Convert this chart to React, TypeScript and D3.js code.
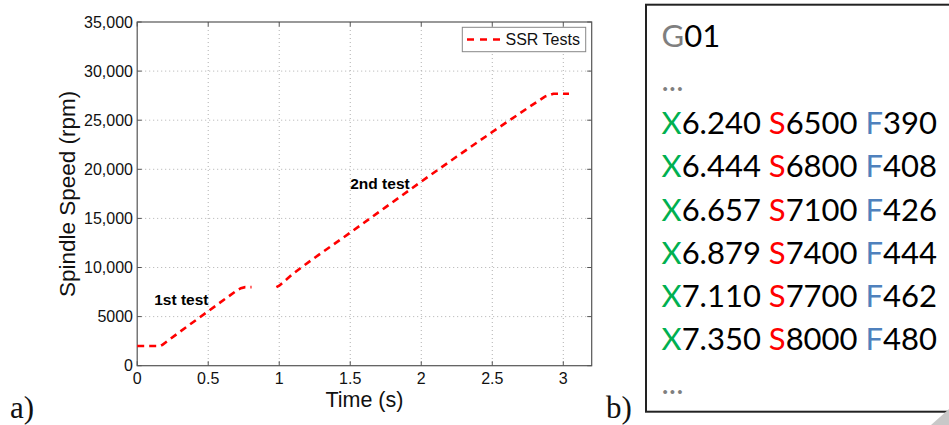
import React from "react";
import * as d3 from "d3";

// ---- Data (panel a) ----
const test1Time = [0, 0.16, 0.18, 0.3, 0.5, 0.7, 0.73, 0.76, 0.805];
const test1Speed = [2000, 2000, 2150, 3450, 5550, 7650, 7900, 8000, 8000];
const test2Time = [0.98, 1.0, 1.1, 1.25, 1.5, 1.75, 2.0, 2.25, 2.5, 2.75, 2.87, 2.93, 3.04];
const test2Speed = [8000, 8150, 9400, 11000, 13550, 16150, 18750, 21300, 23800, 26250, 27400, 27700, 27700];

const xTicks = [0, 0.5, 1, 1.5, 2, 2.5, 3];
const xTickLabels = ["0", "0.5", "1", "1.5", "2", "2.5", "3"];
const yTicks = [0, 5000, 10000, 15000, 20000, 25000, 30000, 35000];
const yTickLabels = ["0", "5000", "10,000", "15,000", "20,000", "25,000", "30,000", "35,000"];

const annotations = [
  { text: "1st test", t: 0.12, v: 6200 },
  { text: "2nd test", t: 1.5, v: 18000 },
];

// ---- Data (panel b) ----
const codeHeader = "G01";
const codeX = ["6.240", "6.444", "6.657", "6.879", "7.110", "7.350"];
const codeS = ["6500", "6800", "7100", "7400", "7700", "8000"];
const codeF = ["390", "408", "426", "444", "462", "480"];

export default function App() {
  const W = 949, H = 425;
  const left = 137.2, right = 591.7, top = 22, bottom = 365.7;
  const x = d3.scaleLinear().domain([0, 3.2]).range([left, right]);
  const y = d3.scaleLinear().domain([0, 35000]).range([bottom, top]);
  const line = d3.line<[number, number]>().x(d => x(d[0])).y(d => y(d[1]));
  const s1 = test1Time.map((t, i) => [t, test1Speed[i]] as [number, number]);
  const s2 = test2Time.map((t, i) => [t, test2Speed[i]] as [number, number]);
  const axisFont = "'Liberation Sans', Arial, Helvetica, sans-serif";
  const red = "#ff0000";
  const dash = "7,5";
  const gridColor = "#b0b0b0";
  const axisColor = "#555";
  const tickLen = 4.5;

  const codeFont = "Lato, Carlito, Calibri, sans-serif";
  const codeX0 = 661.5;
  const baseY = 47.3;
  const step = 43.3;

  return (
    <svg width={W} height={H} style={{ position: "absolute", left: 0, top: 0, background: "#fff" }}>
      <rect x={0} y={0} width={W} height={H} fill="#fff" />
      {/* grid */}
      {xTicks.filter(t => t > 0).map(t => (
        <line key={"gx" + t} x1={x(t)} x2={x(t)} y1={top} y2={bottom} stroke={gridColor} strokeWidth={1} strokeDasharray="1,3" />
      ))}
      {yTicks.filter(v => v > 0 && v < 35000).map(v => (
        <line key={"gy" + v} x1={left} x2={right} y1={y(v)} y2={y(v)} stroke={gridColor} strokeWidth={1} strokeDasharray="1,3" />
      ))}
      {/* ticks */}
      {xTicks.map(t => (
        <g key={"tx" + t}>
          <line x1={x(t)} x2={x(t)} y1={bottom} y2={bottom - tickLen} stroke={axisColor} />
          <line x1={x(t)} x2={x(t)} y1={top} y2={top + tickLen} stroke={axisColor} />
        </g>
      ))}
      {yTicks.map(v => (
        <g key={"ty" + v}>
          <line x1={left} x2={left + tickLen} y1={y(v)} y2={y(v)} stroke={axisColor} />
          <line x1={right} x2={right - tickLen} y1={y(v)} y2={y(v)} stroke={axisColor} />
        </g>
      ))}
      {/* box */}
      <rect x={left} y={top} width={right - left} height={bottom - top} fill="none" stroke={axisColor} strokeWidth={1.2} />
      {/* tick labels */}
      {xTicks.map((t, i) => (
        <text key={"lx" + t} x={x(t)} y={383.5} textAnchor="middle" fontFamily={axisFont} fontSize={16} fill="#111">{xTickLabels[i]}</text>
      ))}
      {yTicks.map((v, i) => (
        <text key={"ly" + v} x={133} y={y(v)} dy="0.36em" textAnchor="end" fontFamily={axisFont} fontSize={16} fill="#111">{yTickLabels[i]}</text>
      ))}
      {/* axis titles */}
      <text x={(left + right) / 2} y={407} textAnchor="middle" fontFamily={axisFont} fontSize={21.5} fill="#111">Time (s)</text>
      <text transform={`translate(74.5,${(top + bottom) / 2}) rotate(-90)`} textAnchor="middle" fontFamily={axisFont} fontSize={22.5} fill="#111">Spindle Speed (rpm)</text>
      {/* data */}
      <path d={line(s1) || ""} fill="none" stroke={red} strokeWidth={2.6} strokeDasharray={dash} />
      <path d={line(s2) || ""} fill="none" stroke={red} strokeWidth={2.6} strokeDasharray={dash} />
      {/* annotations */}
      {annotations.map(a => (
        <text key={a.text} x={x(a.t)} y={y(a.v)} fontFamily={axisFont} fontSize={15.5} fontWeight="bold" fill="#000">{a.text}</text>
      ))}
      {/* legend */}
      <rect x={462.3} y={27.3} width={123.4} height={24.4} fill="#fff" stroke="#888" strokeWidth={1} />
      <line x1={467} x2={502} y1={39.5} y2={39.5} stroke={red} strokeWidth={2.6} strokeDasharray="7,6" />
      <text x={505.5} y={39.5} dy="0.36em" fontFamily={axisFont} fontSize={16} fill="#111">SSR Tests</text>
      {/* panel labels */}
      <text x={10} y={418} fontFamily="'Liberation Serif', 'Times New Roman', serif" fontSize={31} fill="#111">a)</text>
      <text x={606} y={418} fontFamily="'Liberation Serif', 'Times New Roman', serif" fontSize={31} fill="#111">b)</text>

      {/* panel b */}
      <rect x={646} y={4.7} width={320} height={407} fill="#fff" stroke="#222" strokeWidth={2} />
      <text x={codeX0} y={baseY} fontFamily={codeFont} fontSize={31} fill="#000">
        <tspan fill="#7f7f7f">{codeHeader[0]}</tspan>
        <tspan>{codeHeader.slice(1)}</tspan>
      </text>
      <text x={codeX0} y={baseY + step} fontFamily={codeFont} fontSize={31} fill="#7f7f7f">...</text>
      {codeX.map((xv, i) => (
        <text key={"code" + i} x={codeX0} y={baseY + step * (i + 2)} fontFamily={codeFont} fontSize={31} fill="#000" xmlSpace="preserve">
          <tspan fill="#00b050">X</tspan>
          <tspan>{xv + " "}</tspan>
          <tspan fill="#ff0000">S</tspan>
          <tspan>{codeS[i] + " "}</tspan>
          <tspan fill="#4f81bd">F</tspan>
          <tspan>{codeF[i]}</tspan>
        </text>
      ))}
      <text x={codeX0} y={baseY + step * 8} fontFamily={codeFont} fontSize={31} fill="#7f7f7f">...</text>
      <polygon points="931,425 949,409 949,425" fill="#c8c8c8" />
    </svg>
  );
}
